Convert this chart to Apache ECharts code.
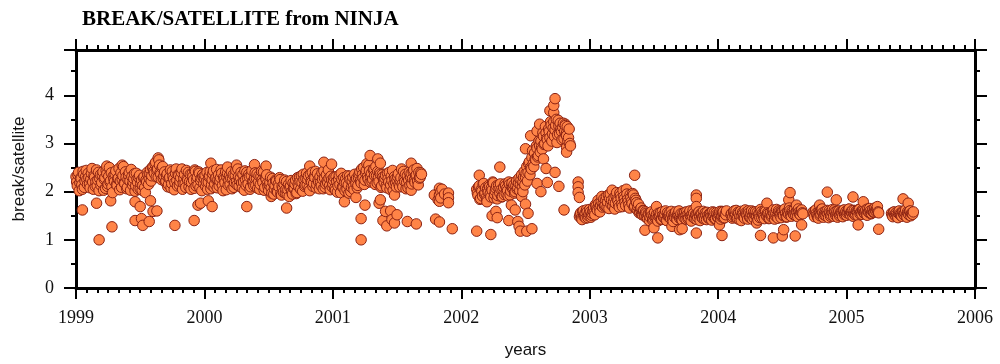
<!DOCTYPE html>
<html>
<head>
<meta charset="utf-8">
<script src="https://cdn.jsdelivr.net/npm/echarts@6/dist/echarts.min.js"></script>
<style>html,body{margin:0;padding:0;background:#fff}#c{width:1000px;height:364px}</style>
</head>
<body>
<div id="c"></div>
<script>
// x: decimal year, y: break/satellite ratio
const band1999 = [
[1999.00,2.31],[1999.01,2.12],[1999.02,2.40],[1999.03,2.18],[1999.04,2.27],[1999.05,2.05],[1999.06,2.36],[1999.07,2.22],[1999.08,2.44],[1999.09,2.15],
[1999.10,2.29],[1999.11,2.08],[1999.12,2.38],[1999.13,2.20],[1999.14,2.33],[1999.15,2.11],[1999.16,2.45],[1999.17,2.24],[1999.18,2.02],[1999.19,2.35],
[1999.20,2.19],[1999.21,2.41],[1999.22,2.26],[1999.23,2.07],[1999.24,2.37],[1999.25,2.16],[1999.26,2.50],[1999.27,2.23],[1999.28,2.10],[1999.29,2.32],
[1999.30,2.21],[1999.31,2.43],[1999.32,2.13],[1999.33,2.28],[1999.34,2.04],[1999.35,2.39],[1999.36,2.25],[1999.37,2.52],[1999.38,2.17],[1999.39,2.30],
[1999.40,2.09],[1999.41,2.34],[1999.42,2.22],[1999.43,2.46],[1999.44,2.14],[1999.45,2.27],[1999.46,2.01],[1999.47,2.38],[1999.48,2.19],[1999.49,2.29],
[1999.50,2.06],[1999.51,2.24],[1999.52,2.13],[1999.53,2.31],[1999.54,1.98],[1999.55,2.20],[1999.56,2.35],[1999.57,2.28],[1999.58,2.46],[1999.59,2.33],
[1999.60,2.52],[1999.61,2.38],[1999.62,2.61],[1999.63,2.44],[1999.64,2.30],[1999.65,2.55],[1999.66,2.36],[1999.67,2.49],[1999.68,2.27],[1999.69,2.41],
[1999.70,2.22],[1999.71,2.37],[1999.72,2.15],[1999.73,2.30],[1999.74,2.08],[1999.75,2.42],[1999.76,2.26],[1999.77,2.19],[1999.78,2.47],[1999.79,2.12],
[1999.80,2.33],[1999.81,2.21],[1999.82,2.40],[1999.83,2.05],[1999.84,2.28],[1999.85,2.17],[1999.86,2.44],[1999.87,2.24],[1999.88,2.10],[1999.89,2.36],
[1999.90,2.19],[1999.91,2.31],[1999.92,2.07],[1999.93,2.42],[1999.94,2.25],[1999.95,2.14],[1999.96,2.38],[1999.97,2.23],[1999.98,2.02],[1999.99,2.30]
];
const band1999b = [
[1999.005,2.20],[1999.015,2.35],[1999.025,2.02],[1999.035,2.28],[1999.045,2.14],[1999.055,2.42],[1999.065,2.09],[1999.075,2.31],[1999.085,2.25],[1999.095,2.38],
[1999.105,2.16],[1999.115,2.26],[1999.125,2.48],[1999.135,2.05],[1999.145,2.30],[1999.155,2.21],[1999.165,2.12],[1999.175,2.40],[1999.185,2.27],[1999.195,2.13],
[1999.205,2.34],[1999.215,2.03],[1999.225,2.29],[1999.235,2.44],[1999.245,2.11],[1999.255,2.32],[1999.265,2.20],[1999.275,2.39],[1999.285,1.98],[1999.295,2.26],
[1999.305,2.36],[1999.315,2.15],[1999.325,2.27],[1999.335,2.48],[1999.345,2.22],[1999.355,2.09],[1999.365,2.33],[1999.375,2.18],[1999.385,2.41],[1999.395,2.06],
[1999.405,2.25],[1999.415,2.40],[1999.425,2.03],[1999.435,2.31],[1999.445,2.20],[1999.455,2.37],[1999.465,2.12],[1999.475,2.26],[1999.485,2.05],[1999.495,2.34],
[1999.505,2.17],[1999.515,2.03],[1999.525,2.29],[1999.535,2.09],[1999.545,2.24],[1999.555,2.40],[1999.565,2.15],[1999.575,2.37],[1999.585,2.22],[1999.595,2.50],
[1999.605,2.42],[1999.615,2.58],[1999.625,2.31],[1999.635,2.47],[1999.645,2.66],[1999.655,2.39],[1999.665,2.25],[1999.675,2.52],[1999.685,2.33],[1999.695,2.20],
[1999.705,2.33],[1999.715,2.10],[1999.725,2.28],[1999.735,2.45],[1999.745,2.17],[1999.755,2.31],[1999.765,2.04],[1999.775,2.38],[1999.785,2.23],[1999.795,2.35],
[1999.805,2.14],[1999.815,2.29],[1999.825,2.47],[1999.835,2.18],[1999.845,2.36],[1999.855,2.09],[1999.865,2.27],[1999.875,2.40],[1999.885,2.21],[1999.895,2.05],
[1999.905,2.37],[1999.915,2.24],[1999.925,2.45],[1999.935,2.12],[1999.945,2.30],[1999.955,2.41],[1999.965,2.08],[1999.975,2.28],[1999.985,2.35],[1999.995,2.17]
];
const band2000 = [
[2000.00,2.27],[2000.01,2.11],[2000.02,2.40],[2000.03,2.20],[2000.04,2.33],[2000.05,2.06],[2000.06,2.25],[2000.07,2.43],[2000.08,2.16],[2000.09,2.29],
[2000.10,2.08],[2000.11,2.35],[2000.12,2.22],[2000.13,2.45],[2000.14,2.13],[2000.15,2.30],[2000.16,2.19],[2000.17,2.04],[2000.18,2.38],[2000.19,2.24],
[2000.20,2.15],[2000.21,2.41],[2000.22,2.27],[2000.23,2.09],[2000.24,2.34],[2000.25,2.21],[2000.26,2.47],[2000.27,2.12],[2000.28,2.29],[2000.29,2.18],
[2000.30,2.36],[2000.31,2.03],[2000.32,2.25],[2000.33,2.40],[2000.34,2.16],[2000.35,2.31],[2000.36,2.10],[2000.37,2.44],[2000.38,2.22],[2000.39,2.28],
[2000.40,2.13],[2000.41,2.37],[2000.42,2.20],[2000.43,2.05],[2000.44,2.32],[2000.45,2.24],[2000.46,2.41],[2000.47,2.09],[2000.48,2.26],[2000.49,2.17],
[2000.50,2.02],[2000.51,2.19],[2000.52,2.08],[2000.53,2.27],[2000.54,1.95],[2000.55,2.13],[2000.56,2.22],[2000.57,1.99],[2000.58,2.10],[2000.59,2.25],
[2000.60,1.93],[2000.61,2.07],[2000.62,2.16],[2000.63,1.97],[2000.64,2.21],[2000.65,2.04],[2000.66,1.90],[2000.67,2.12],[2000.68,2.00],[2000.69,2.18],
[2000.70,2.08],[2000.71,2.24],[2000.72,1.98],[2000.73,2.15],[2000.74,2.30],[2000.75,2.05],[2000.76,2.19],[2000.77,2.36],[2000.78,2.11],[2000.79,2.27],
[2000.80,2.14],[2000.81,2.33],[2000.82,2.02],[2000.83,2.22],[2000.84,2.40],[2000.85,2.17],[2000.86,2.29],[2000.87,2.08],[2000.88,2.37],[2000.89,2.20],
[2000.90,2.31],[2000.91,2.12],[2000.92,2.26],[2000.93,2.43],[2000.94,2.09],[2000.95,2.35],[2000.96,2.18],[2000.97,2.28],[2000.98,2.04],[2000.99,2.24]
];
const band2000b = [
[2000.005,2.34],[2000.015,2.20],[2000.025,2.05],[2000.035,2.31],[2000.045,2.42],[2000.055,2.14],[2000.065,2.37],[2000.075,2.09],[2000.085,2.27],[2000.095,2.46],
[2000.105,2.25],[2000.115,2.12],[2000.125,2.29],[2000.135,2.38],[2000.145,2.02],[2000.155,2.26],[2000.165,2.41],[2000.175,2.30],[2000.185,2.14],[2000.195,2.33],
[2000.205,2.28],[2000.215,2.06],[2000.225,2.35],[2000.235,2.19],[2000.245,2.44],[2000.255,2.14],[2000.265,2.31],[2000.275,2.23],[2000.285,2.40],[2000.295,2.07],
[2000.305,2.20],[2000.315,2.43],[2000.325,2.13],[2000.335,2.29],[2000.345,2.36],[2000.355,2.05],[2000.365,2.33],[2000.375,2.19],[2000.385,2.12],[2000.395,2.39],
[2000.405,2.28],[2000.415,2.07],[2000.425,2.33],[2000.435,2.15],[2000.445,2.42],[2000.455,2.19],[2000.465,2.03],[2000.475,2.30],[2000.485,2.35],[2000.495,2.11],
[2000.505,2.14],[2000.515,2.30],[2000.525,1.97],[2000.535,2.18],[2000.545,2.06],[2000.555,2.24],[2000.565,2.01],[2000.575,2.16],[2000.585,2.29],[2000.595,1.96],
[2000.605,2.11],[2000.615,1.99],[2000.625,2.24],[2000.635,2.05],[2000.645,1.94],[2000.655,2.15],[2000.665,2.09],[2000.675,2.23],[2000.685,1.95],[2000.695,2.07],
[2000.705,2.16],[2000.715,1.96],[2000.725,2.29],[2000.735,2.10],[2000.745,2.21],[2000.755,2.33],[2000.765,2.01],[2000.775,2.25],[2000.785,2.14],[2000.795,2.38],
[2000.805,2.25],[2000.815,2.08],[2000.825,2.36],[2000.835,2.19],[2000.845,2.11],[2000.855,2.31],[2000.865,2.42],[2000.875,2.15],[2000.885,2.24],[2000.895,2.06],
[2000.905,2.19],[2000.915,2.39],[2000.925,2.06],[2000.935,2.28],[2000.945,2.16],[2000.955,2.22],[2000.965,2.45],[2000.975,2.13],[2000.985,2.32],[2000.995,2.10]
];
const band2001 = [
[2001.00,2.16],[2001.01,2.30],[2001.02,2.03],[2001.03,2.21],[2001.04,2.12],[2001.05,2.34],[2001.06,1.98],[2001.07,2.25],[2001.08,2.09],[2001.09,2.19],
[2001.10,2.27],[2001.11,2.05],[2001.12,2.14],[2001.13,2.32],[2001.14,2.00],[2001.15,2.22],[2001.16,2.11],[2001.17,2.36],[2001.18,2.17],[2001.19,2.08],
[2001.20,2.29],[2001.21,2.41],[2001.22,2.18],[2001.23,2.35],[2001.24,2.50],[2001.25,2.24],[2001.26,2.44],[2001.27,2.31],[2001.28,2.55],[2001.29,2.20],
[2001.30,2.38],[2001.31,2.26],[2001.32,2.47],[2001.33,2.15],[2001.34,2.33],[2001.35,2.42],[2001.36,2.21],[2001.37,2.36],[2001.38,2.12],[2001.39,2.30],
[2001.40,2.19],[2001.41,2.34],[2001.42,2.08],[2001.43,2.27],[2001.44,2.40],[2001.45,2.14],[2001.46,2.23],[2001.47,2.03],[2001.48,2.31],[2001.49,2.18],
[2001.50,2.25],[2001.51,2.37],[2001.52,2.10],[2001.53,2.29],[2001.54,2.16],[2001.55,2.42],[2001.56,2.21],[2001.57,2.06],[2001.58,2.33],[2001.59,2.24],
[2001.60,2.13],[2001.61,2.38],[2001.62,2.27],[2001.63,2.45],[2001.64,2.19],[2001.65,2.35],[2001.66,2.22],[2001.67,2.40],[2001.68,2.30],[2001.69,2.36]
];
const band2001b = [
[2001.005,2.24],[2001.015,2.07],[2001.025,2.31],[2001.035,1.99],[2001.045,2.26],[2001.055,2.15],[2001.065,2.38],[2001.075,2.10],[2001.085,2.29],[2001.095,2.02],
[2001.105,2.18],[2001.115,2.33],[2001.125,1.97],[2001.135,2.25],[2001.145,2.09],[2001.155,2.30],[2001.165,2.04],[2001.175,2.23],[2001.185,2.28],[2001.195,2.13],
[2001.205,2.36],[2001.215,2.22],[2001.225,2.47],[2001.235,2.28],[2001.245,2.15],[2001.255,2.39],[2001.265,2.58],[2001.275,2.26],[2001.285,2.43],[2001.295,2.32],
[2001.305,2.21],[2001.315,2.45],[2001.325,2.33],[2001.335,2.52],[2001.345,2.18],[2001.355,2.29],[2001.365,2.40],[2001.375,2.09],[2001.385,2.35],[2001.395,2.24],
[2001.405,2.28],[2001.415,2.12],[2001.425,2.38],[2001.435,2.20],[2001.445,2.05],[2001.455,2.32],[2001.465,2.44],[2001.475,2.16],[2001.485,2.26],[2001.495,2.10],
[2001.505,2.31],[2001.515,2.15],[2001.525,2.23],[2001.535,2.47],[2001.545,2.10],[2001.555,2.28],[2001.565,2.36],[2001.575,2.19],[2001.585,2.08],[2001.595,2.40],
[2001.605,2.30],[2001.615,2.16],[2001.625,2.42],[2001.635,2.24],[2001.645,2.33],[2001.655,2.48],[2001.665,2.14],[2001.675,2.28],[2001.685,2.39]
];
const band2002 = [
[2002.12,2.05],[2002.13,1.92],[2002.14,2.12],[2002.15,1.86],[2002.16,2.01],[2002.17,2.15],[2002.18,1.95],[2002.19,2.08],[2002.20,1.83],[2002.21,1.99],
[2002.22,2.10],[2002.23,1.89],[2002.24,2.03],[2002.25,2.18],[2002.26,1.94],[2002.27,2.07],[2002.28,1.85],[2002.29,2.13],[2002.30,1.97],[2002.31,2.04],
[2002.32,1.90],[2002.33,2.09],[2002.34,2.16],[2002.35,1.96],[2002.36,2.02],[2002.37,2.20],[2002.38,1.93],[2002.39,2.11],[2002.40,2.06],[2002.41,2.14],
[2002.42,2.00],[2002.43,2.22],[2002.44,2.08],[2002.45,2.28],[2002.46,2.15],[2002.47,2.35],[2002.48,2.20],[2002.49,2.42],[2002.50,2.30],[2002.51,2.52],
[2002.52,2.40],[2002.53,2.62],[2002.54,2.50],[2002.55,2.71],[2002.56,2.58],[2002.57,2.80],[2002.58,2.66],[2002.59,2.90],[2002.60,2.75],[2002.61,2.95],
[2002.62,3.05],[2002.63,2.88],[2002.64,3.15],[2002.65,3.00],[2002.66,3.22],[2002.67,3.08],[2002.68,3.30],[2002.69,3.12],[2002.70,3.38],[2002.71,3.20],
[2002.72,3.45],[2002.73,3.28],[2002.74,3.50],[2002.75,3.18],[2002.76,3.36],[2002.77,3.42],[2002.78,3.25],[2002.79,3.33],[2002.80,3.10],[2002.81,3.40],
[2002.82,3.22],[2002.83,3.05],[2002.84,3.30],[2002.85,2.95]
];
const band2002b = [
[2002.125,1.97],[2002.135,2.10],[2002.145,1.84],[2002.155,2.04],[2002.165,1.91],[2002.175,2.17],[2002.185,1.98],[2002.195,1.88],[2002.205,2.06],[2002.215,2.13],
[2002.225,1.95],[2002.235,2.08],[2002.245,2.20],[2002.255,1.87],[2002.265,2.01],[2002.275,2.12],[2002.285,1.92],[2002.295,2.05],[2002.305,2.16],[2002.315,1.89],
[2002.325,2.03],[2002.335,1.94],[2002.345,2.12],[2002.355,2.07],[2002.365,1.91],[2002.375,2.15],[2002.385,2.01],[2002.395,2.18],[2002.405,2.09],[2002.415,1.97],
[2002.425,2.12],[2002.435,2.05],[2002.445,2.18],[2002.455,2.02],[2002.465,2.25],[2002.475,2.10],[2002.485,2.30],[2002.495,2.14],[2002.505,2.38],[2002.515,2.22],
[2002.525,2.58],[2002.535,2.35],[2002.545,2.47],[2002.555,2.85],[2002.565,2.52],[2002.575,2.68],[2002.585,2.95],[2002.595,2.72],[2002.605,3.05],[2002.615,2.82],
[2002.625,2.92],[2002.635,3.22],[2002.645,2.98],[2002.655,3.35],[2002.665,3.10],[2002.675,2.95],[2002.685,3.25],[2002.695,3.45],[2002.705,3.05],[2002.715,3.32],
[2002.725,3.15],[2002.735,3.38],[2002.745,3.02],[2002.755,3.48],[2002.765,3.20],[2002.775,3.30],[2002.785,3.08],[2002.795,3.42],[2002.805,3.25],[2002.815,3.18],
[2002.825,3.35],[2002.835,3.12],[2002.845,3.00]
];
const band2003 = [
[2002.92,1.48],[2002.93,1.56],[2002.94,1.42],[2002.95,1.60],[2002.96,1.51],[2002.97,1.45],[2002.98,1.58],[2002.99,1.50],[2003.00,1.63],[2003.01,1.47],
[2003.02,1.55],[2003.03,1.66],[2003.04,1.52],[2003.05,1.70],[2003.06,1.61],[2003.07,1.75],[2003.08,1.58],[2003.09,1.80],[2003.10,1.68],[2003.11,1.85],
[2003.12,1.72],[2003.13,1.90],[2003.14,1.78],[2003.15,1.65],[2003.16,1.95],[2003.17,1.82],[2003.18,1.70],[2003.19,1.88],[2003.20,1.76],[2003.21,1.98],
[2003.22,1.81],[2003.23,1.68],[2003.24,1.92],[2003.25,1.74],[2003.26,2.02],[2003.27,1.85],[2003.28,1.71],[2003.29,1.95],[2003.30,1.79],[2003.31,1.66],
[2003.32,1.88],[2003.33,1.75],[2003.34,1.93],[2003.35,1.70],[2003.36,1.82],[2003.37,1.62],[2003.38,1.74],[2003.39,1.58],[2003.40,1.66],[2003.41,1.52],
[2003.42,1.60],[2003.43,1.49],[2003.44,1.55],[2003.45,1.44],[2003.46,1.52],[2003.47,1.47],[2003.48,1.58],[2003.49,1.41],[2003.50,1.50],[2003.51,1.45],
[2003.52,1.53],[2003.53,1.39],[2003.54,1.48],[2003.55,1.56],[2003.56,1.43],[2003.57,1.51],[2003.58,1.46],[2003.59,1.60],[2003.60,1.40],[2003.61,1.49],
[2003.62,1.55],[2003.63,1.44],[2003.64,1.52],[2003.65,1.38],[2003.66,1.47],[2003.67,1.58],[2003.68,1.42],[2003.69,1.50],[2003.70,1.45],[2003.71,1.54],
[2003.72,1.41],[2003.73,1.49],[2003.74,1.57],[2003.75,1.43],[2003.76,1.52],[2003.77,1.46],[2003.78,1.60],[2003.79,1.39],[2003.80,1.48],[2003.81,1.55],
[2003.82,1.44],[2003.83,1.51],[2003.84,1.47],[2003.85,1.58],[2003.86,1.40],[2003.87,1.53],[2003.88,1.45],[2003.89,1.49],[2003.90,1.56],[2003.91,1.42],
[2003.92,1.50],[2003.93,1.46],[2003.94,1.54],[2003.95,1.41],[2003.96,1.48],[2003.97,1.57],[2003.98,1.44],[2003.99,1.52],[2004.00,1.47],[2004.01,1.55],
[2004.02,1.43],[2004.03,1.50],[2004.04,1.58],[2004.05,1.46],[2004.06,1.52]
];
const band2003b = [
[2002.925,1.53],[2002.935,1.45],[2002.945,1.59],[2002.955,1.49],[2002.965,1.55],[2002.975,1.62],[2002.985,1.46],[2002.995,1.54],[2003.005,1.58],[2003.015,1.51],
[2003.025,1.60],[2003.035,1.57],[2003.045,1.73],[2003.055,1.64],[2003.065,1.82],[2003.075,1.67],[2003.085,1.72],[2003.095,1.90],[2003.105,1.76],[2003.115,1.70],
[2003.125,1.83],[2003.135,1.68],[2003.145,1.93],[2003.155,1.86],[2003.165,1.74],[2003.175,2.03],[2003.185,1.79],[2003.195,1.64],[2003.205,1.91],[2003.215,1.84],
[2003.225,1.73],[2003.235,1.97],[2003.245,1.86],[2003.255,1.69],[2003.265,1.90],[2003.275,1.78],[2003.285,2.05],[2003.295,1.84],[2003.305,1.72],[2003.315,1.94],
[2003.325,1.80],[2003.335,1.96],[2003.345,1.68],[2003.355,1.86],[2003.365,1.77],[2003.375,1.69],[2003.385,1.56],[2003.395,1.64],[2003.405,1.53],[2003.415,1.61],
[2003.425,1.52],[2003.435,1.58],[2003.445,1.46],[2003.455,1.54],[2003.465,1.40],[2003.475,1.55],[2003.485,1.50],[2003.495,1.44],[2003.505,1.57],[2003.515,1.48],
[2003.525,1.44],[2003.535,1.55],[2003.545,1.51],[2003.555,1.42],[2003.565,1.58],[2003.575,1.47],[2003.585,1.53],[2003.595,1.41],[2003.605,1.56],[2003.615,1.50],
[2003.625,1.46],[2003.635,1.59],[2003.645,1.43],[2003.655,1.51],[2003.665,1.55],[2003.675,1.45],[2003.685,1.53],[2003.695,1.60],[2003.705,1.48],[2003.715,1.42],
[2003.725,1.54],[2003.735,1.46],[2003.745,1.50],[2003.755,1.58],[2003.765,1.44],[2003.775,1.55],[2003.785,1.49],[2003.795,1.52],[2003.805,1.61],[2003.815,1.45],
[2003.825,1.53],[2003.835,1.42],[2003.845,1.56],[2003.855,1.49],[2003.865,1.54],[2003.875,1.46],[2003.885,1.59],[2003.895,1.43],[2003.905,1.51],[2003.915,1.57],
[2003.925,1.45],[2003.935,1.55],[2003.945,1.49],[2003.955,1.58],[2003.965,1.52],[2003.975,1.43],[2003.985,1.56],[2003.995,1.47],[2004.005,1.53],[2004.015,1.59],
[2004.025,1.48],[2004.035,1.56],[2004.045,1.45],[2004.055,1.54],[2004.065,1.60]
];
const band2004 = [
[2004.10,1.52],[2004.11,1.45],[2004.12,1.58],[2004.13,1.49],[2004.14,1.61],[2004.15,1.44],[2004.16,1.55],[2004.17,1.50],[2004.18,1.40],[2004.19,1.57],
[2004.20,1.48],[2004.21,1.62],[2004.22,1.53],[2004.23,1.43],[2004.24,1.56],[2004.25,1.47],[2004.26,1.60],[2004.27,1.51],[2004.28,1.45],[2004.29,1.58],
[2004.30,1.50],[2004.31,1.41],[2004.32,1.55],[2004.33,1.63],[2004.34,1.46],[2004.35,1.52],[2004.36,1.44],[2004.37,1.59],[2004.38,1.49],[2004.39,1.54],
[2004.40,1.45],[2004.41,1.57],[2004.42,1.51],[2004.43,1.62],[2004.44,1.43],[2004.45,1.55],[2004.46,1.48],[2004.47,1.60],[2004.48,1.52],[2004.49,1.46],
[2004.50,1.58],[2004.51,1.50],[2004.52,1.64],[2004.53,1.47],[2004.54,1.56],[2004.55,1.53],[2004.56,1.61],[2004.57,1.49],[2004.58,1.57],[2004.59,1.52],
[2004.60,1.55],[2004.61,1.60],[2004.62,1.48],[2004.63,1.58],[2004.64,1.52],[2004.65,1.62],[2004.66,1.54]
];
const band2004b = [
[2004.105,1.55],[2004.115,1.48],[2004.125,1.60],[2004.135,1.53],[2004.145,1.46],[2004.155,1.57],[2004.165,1.42],[2004.175,1.59],[2004.185,1.51],[2004.195,1.54],
[2004.205,1.45],[2004.215,1.56],[2004.225,1.50],[2004.235,1.60],[2004.245,1.47],[2004.255,1.55],[2004.265,1.43],[2004.275,1.58],[2004.285,1.53],[2004.295,1.49],
[2004.305,1.57],[2004.315,1.52],[2004.325,1.46],[2004.335,1.58],[2004.345,1.55],[2004.355,1.48],[2004.365,1.61],[2004.375,1.51],[2004.385,1.56],[2004.395,1.44],
[2004.405,1.53],[2004.415,1.48],[2004.425,1.59],[2004.435,1.54],[2004.445,1.50],[2004.455,1.63],[2004.465,1.45],[2004.475,1.57],[2004.485,1.55],[2004.495,1.60],
[2004.505,1.51],[2004.515,1.62],[2004.525,1.55],[2004.535,1.48],[2004.545,1.59],[2004.555,1.66],[2004.565,1.52],[2004.575,1.60],[2004.585,1.54],[2004.595,1.63],
[2004.605,1.50],[2004.615,1.57],[2004.625,1.64],[2004.635,1.53],[2004.645,1.59],[2004.655,1.56]
];
const band2005 = [
[2004.74,1.58],[2004.75,1.48],[2004.76,1.62],[2004.77,1.51],[2004.78,1.45],[2004.79,1.57],[2004.80,1.53],[2004.81,1.64],[2004.82,1.47],[2004.83,1.55],
[2004.84,1.50],[2004.85,1.61],[2004.86,1.46],[2004.87,1.56],[2004.88,1.52],[2004.89,1.63],[2004.90,1.49],[2004.91,1.58],[2004.92,1.54],[2004.93,1.47],
[2004.94,1.60],[2004.95,1.53],[2004.96,1.57],[2004.97,1.48],[2004.98,1.62],[2004.99,1.55],[2005.00,1.51],[2005.01,1.59],[2005.02,1.64],[2005.03,1.52],
[2005.04,1.56],[2005.05,1.49],[2005.06,1.61],[2005.07,1.54],[2005.08,1.58],[2005.09,1.50],[2005.10,1.63],[2005.11,1.57],[2005.12,1.53],[2005.13,1.60],
[2005.14,1.55],[2005.15,1.62],[2005.16,1.51],[2005.17,1.58],[2005.18,1.65],[2005.19,1.54],[2005.20,1.60],[2005.21,1.57],[2005.22,1.66],[2005.23,1.59],
[2005.24,1.62],[2005.25,1.56],
[2005.35,1.55],[2005.36,1.48],[2005.37,1.58],[2005.38,1.50],[2005.39,1.53],[2005.40,1.46],[2005.41,1.60],[2005.42,1.52],[2005.43,1.49],[2005.44,1.57],
[2005.45,1.51],[2005.46,1.62],[2005.47,1.47],[2005.48,1.55],[2005.49,1.59],[2005.50,1.50],[2005.51,1.54],[2005.52,1.58]
];
const band2005b = [
[2004.745,1.52],[2004.755,1.60],[2004.765,1.55],[2004.775,1.47],[2004.785,1.59],[2004.795,1.50],[2004.805,1.61],[2004.815,1.56],[2004.825,1.52],[2004.835,1.59],
[2004.845,1.57],[2004.855,1.53],[2004.865,1.60],[2004.875,1.49],[2004.885,1.58],[2004.895,1.55],[2004.905,1.62],[2004.915,1.51],[2004.925,1.59],[2004.935,1.56],
[2004.945,1.50],[2004.955,1.58],[2004.965,1.54],[2004.975,1.61],[2004.985,1.52],[2004.995,1.59],[2005.005,1.56],[2005.015,1.63],[2005.025,1.53],[2005.035,1.58],
[2005.045,1.61],[2005.055,1.55],[2005.065,1.52],[2005.075,1.60],[2005.085,1.57],[2005.095,1.63],[2005.105,1.54],[2005.115,1.59],[2005.125,1.62],[2005.135,1.56],
[2005.145,1.59],[2005.155,1.53],[2005.165,1.64],[2005.175,1.57],[2005.185,1.60],[2005.195,1.55],[2005.205,1.63],[2005.215,1.58],[2005.225,1.61],[2005.235,1.65],
[2005.245,1.58],
[2005.355,1.51],[2005.365,1.57],[2005.375,1.52],[2005.385,1.56],[2005.395,1.49],[2005.405,1.55],[2005.415,1.54],[2005.425,1.50],[2005.435,1.59],[2005.445,1.53],
[2005.455,1.56],[2005.465,1.50],[2005.475,1.58],[2005.485,1.52],[2005.495,1.60],[2005.505,1.55],[2005.515,1.53]
];
const outliers = [
[1999.05,1.62],[1999.16,1.76],[1999.18,1.00],[1999.24,2.53],[1999.27,1.81],[1999.28,1.27],[1999.36,2.55],[1999.46,1.79],[1999.46,1.40],[1999.50,1.69],
[1999.51,1.44],[1999.52,1.30],[1999.57,1.38],[1999.58,1.81],[1999.60,1.59],[1999.63,1.60],[1999.64,2.70],[1999.77,1.30],[1999.92,1.40],[1999.95,1.72],
[1999.97,1.76],[2000.03,1.81],[2000.05,2.59],[2000.06,1.69],[2000.18,2.51],[2000.25,2.55],[2000.33,1.69],[2000.39,2.56],[2000.48,2.53],[2000.52,1.90],
[2000.64,1.66],[2000.82,2.53],[2000.93,2.61],[2000.99,2.57],[2001.09,1.79],[2001.18,1.88],[2001.22,1.44],[2001.22,1.00],[2001.25,1.72],[2001.29,2.75],
[2001.35,2.68],[2001.37,2.59],[2001.36,1.76],[2001.37,1.83],[2001.39,1.40],[2001.41,1.59],[2001.42,1.29],[2001.45,1.60],[2001.46,1.42],[2001.48,1.35],
[2001.48,1.93],[2001.50,1.52],[2001.58,1.38],[2001.61,2.59],[2001.61,2.03],[2001.65,1.33],
[2001.79,1.93],[2001.82,1.83],[2001.83,2.07],[2001.84,2.00],[2001.83,1.93],[2001.84,1.87],[2001.83,1.80],[2001.85,2.05],[2001.87,1.95],[2001.90,1.97],
[2001.90,1.87],[2001.90,1.77],[2001.80,1.43],[2001.83,1.37],[2001.93,1.23],
[2002.12,1.18],[2002.14,2.34],[2002.20,1.79],[2002.23,1.11],[2002.24,1.50],[2002.27,1.59],[2002.28,1.46],[2002.30,2.51],[2002.37,1.40],[2002.39,1.72],
[2002.42,1.62],[2002.44,1.38],[2002.45,1.28],[2002.46,1.18],[2002.47,1.90],[2002.48,2.00],[2002.50,1.74],[2002.50,2.89],[2002.51,1.18],[2002.52,1.55],
[2002.55,1.23],[2002.59,2.17],[2002.62,2.00],[2002.64,2.68],[2002.66,2.48],[2002.67,2.19],[2002.73,2.40],[2002.76,2.11],[2002.80,1.62],[2002.54,3.16],
[2002.59,3.26],[2002.61,3.40],[2002.69,3.68],[2002.72,3.64],[2002.72,3.79],[2002.73,3.93],[2002.81,3.37],[2002.82,3.16],[2002.82,2.92],[2002.82,2.82],
[2002.91,2.20],[2002.91,2.10],[2002.91,1.98],[2002.92,1.88],
[2003.35,2.34],[2003.43,1.20],[2003.50,1.25],[2003.53,1.04],[2003.52,1.69],[2003.64,1.28],[2003.70,1.21],[2003.72,1.23],[2003.83,1.14],[2003.83,1.93],
[2003.83,1.86],[2003.83,1.69],[2004.01,1.31],[2004.03,1.59],[2004.03,1.09],
[2004.30,1.35],[2004.33,1.09],[2004.38,1.76],[2004.43,1.04],[2004.50,1.08],[2004.51,1.21],[2004.55,1.83],[2004.56,1.98],[2004.61,1.72],[2004.60,1.08],
[2004.65,1.31],[2004.79,1.72],[2004.80,1.62],[2004.85,1.99],[2004.92,1.83],[2005.05,1.89],[2005.09,1.31],[2005.13,1.79],[2005.24,1.69],[2005.25,1.22],
[2005.44,1.85],[2005.48,1.76]
];
const yearTicks = ['1999','2000','2001','2002','2003','2004','2005','2006'];

const points = [].concat(band1999, band1999b, band2000, band2000b, band2001, band2001b,
  band2002, band2002b, band2003, band2003b, band2004, band2004b, band2005, band2005b, outliers)
  .slice().sort((a, b) => a[0] - b[0]);

const chart = echarts.init(document.getElementById('c'), null, {renderer: 'canvas'});
const serif = 'Liberation Serif, Times New Roman, serif';
const sans = 'Liberation Sans, Arial, sans-serif';
const frame = {show: true, onZero: false, lineStyle: {color: '#000', width: 3}};

const xBase = {
  type: 'value', min: 1999, max: 2006, interval: 1,
  axisLine: frame, splitLine: {show: false},
  axisTick: {show: true, length: 11, lineStyle: {color: '#000', width: 2}},
  minorTick: {show: true, splitNumber: 12, length: 5, lineStyle: {color: '#000', width: 2}},
  minorSplitLine: {show: false}
};
const yBase = {
  type: 'value', min: 0, max: 4.94, interval: 1,
  axisLine: frame, splitLine: {show: false},
  axisTick: {show: true, length: 12, lineStyle: {color: '#000', width: 2}},
  minorTick: {show: true, splitNumber: 2, length: 5, lineStyle: {color: '#000', width: 2}},
  minorSplitLine: {show: false}
};

chart.setOption({
  animation: false,
  backgroundColor: '#fff',
  title: {
    text: 'BREAK/SATELLITE from NINJA', left: 77, top: 4,
    textStyle: {fontFamily: serif, fontWeight: 'bold', fontSize: 21, color: '#000'}
  },
  grid: {left: 76, right: 25, top: 50, bottom: 75},
  xAxis: [
    Object.assign({}, xBase, {
      position: 'bottom', name: 'years', nameLocation: 'middle', nameGap: 54,
      nameTextStyle: {fontFamily: sans, fontSize: 17, color: '#111'},
      axisLabel: {show: true, margin: 21, fontFamily: serif, fontSize: 18, color: '#111',
        formatter: v => { const i = Math.round(v - 1999); return Math.abs(v - Math.round(v)) < 1e-6 ? yearTicks[i] : ''; }}
    }),
    Object.assign({}, xBase, {position: 'top', axisLabel: {show: false}})
  ],
  yAxis: [
    Object.assign({}, yBase, {
      position: 'left', name: 'break/satellite', nameLocation: 'middle', nameGap: 48,
      nameTextStyle: {fontFamily: sans, fontSize: 17, color: '#111'},
      axisLabel: {show: true, margin: 22, fontFamily: serif, fontSize: 18, color: '#111',
        formatter: v => Math.abs(v - Math.round(v)) < 1e-6 ? String(Math.round(v)) : ''}
    }),
    Object.assign({}, yBase, {position: 'right', axisLabel: {show: false}})
  ],
  series: [{
    type: 'scatter', xAxisIndex: 0, yAxisIndex: 0,
    data: points, symbol: 'circle', symbolSize: 10.5,
    itemStyle: {color: '#ff8447', borderColor: '#8b2213', borderWidth: 1, opacity: 1},
    large: false
  }]
});
</script>
</body>
</html>
